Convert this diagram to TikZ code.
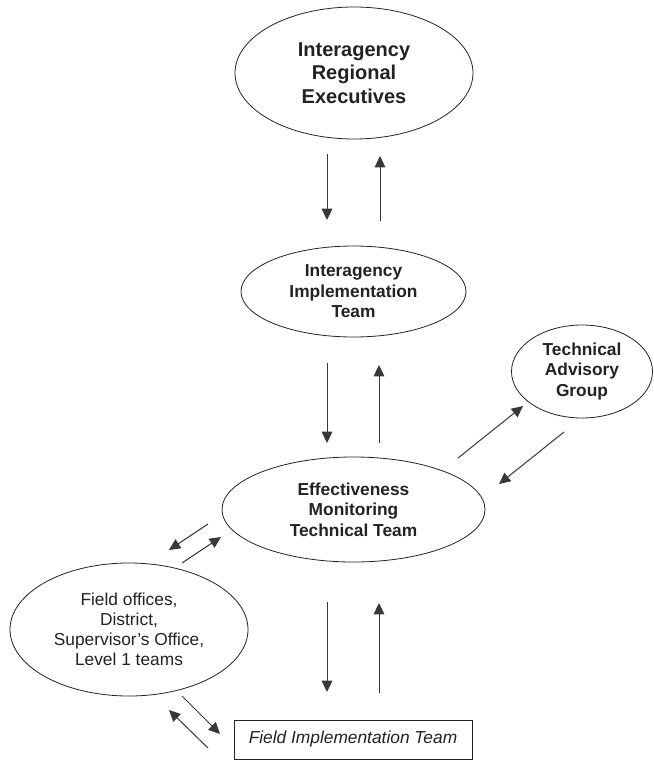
\documentclass[tikz,border=0pt]{standalone}
\usepackage{fontspec}
\setmainfont{Liberation Sans}
\usetikzlibrary{shapes.geometric,arrows.meta}
\definecolor{ink}{HTML}{222222}
\begin{document}
\begin{tikzpicture}[x=0.75pt,y=-0.75pt,
  oval/.style={ellipse,draw=ink,line width=0.6pt,inner sep=0pt,align=center,text=ink,
    font=\fontsize{13}{15.3}\selectfont\bfseries},
  arr/.style={draw=ink!90,line width=0.75pt,-{Triangle[length=8.5pt,width=8pt]}}]
\useasboundingbox (0,0) rectangle (653,760);
% nodes
\node[oval,minimum width=238*0.75pt,minimum height=132*0.75pt,
  font=\fontsize{15}{17.5}\selectfont\bfseries] (ire) at (354,73)
  {Interagency\\Regional\\Executives};
\node[oval,minimum width=225*0.75pt,minimum height=91*0.75pt] (iit) at (353.5,291.5)
  {Interagency\\Implementation\\Team};
\node[oval,minimum width=263*0.75pt,minimum height=105*0.75pt] (emtt) at (353.5,509.5)
  {Effectiveness\\Monitoring\\Technical Team};
\node[oval,minimum width=141*0.75pt,minimum height=93*0.75pt] (tag) at (582,371.5)
  {Technical\\Advisory\\Group};
\node[oval,minimum width=238*0.75pt,minimum height=133*0.75pt,
  font=\fontsize{13}{15}\selectfont] (field) at (129,629.5)
  {Field offices,\\District,\\Supervisor’s Office,\\Level 1 teams};
\node[draw=ink,line width=0.6pt,minimum width=238*0.75pt,minimum height=39*0.75pt,
  inner sep=0pt,text=ink,font=\fontsize{13}{15}\selectfont\itshape] (fit) at (353,739.5)
  {Field Implementation Team};
% connector end points
\coordinate (a1) at (327,154); \coordinate (b1) at (327,220);
\coordinate (a2) at (380,221); \coordinate (b2) at (380,156);
\coordinate (a3) at (327,363); \coordinate (b3) at (327,443);
\coordinate (a4) at (379,443); \coordinate (b4) at (379,365);
\coordinate (a5) at (458,458); \coordinate (b5) at (523,406);
\coordinate (a6) at (564,432); \coordinate (b6) at (499,484);
\coordinate (a7) at (208,524); \coordinate (b7) at (169,550);
\coordinate (a8) at (182,563); \coordinate (b8) at (221,537);
\coordinate (a9) at (327,602); \coordinate (b9) at (327,692);
\coordinate (a10) at (379,693); \coordinate (b10) at (379,603);
\coordinate (a11) at (182,696); \coordinate (b11) at (220,734);
\coordinate (a12) at (208,748); \coordinate (b12) at (169,710);
% connectors
\foreach \i in {1,...,12} {\draw[arr] (a\i) -- (b\i);}
\end{tikzpicture}
\end{document}
